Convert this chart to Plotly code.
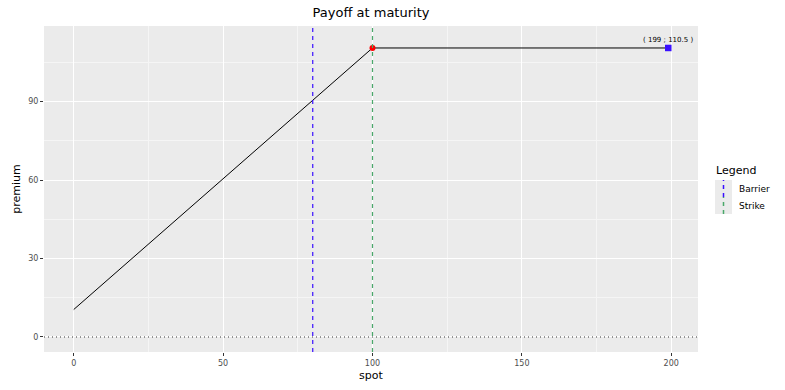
import plotly.graph_objects as go

# data
spot = [0, 100, 199]
premium = [10.5, 110.5, 110.5]
barrier = 80
strike = 100
strike_point = (100, 110.5)
end_point = (199, 110.5)
end_label = "( 199 ; 110.5 )"
legend_items = ["Barrier", "Strike"]
legend_colors = ["#3a10ff", "#4aa86a"]
x_ticks = [0, 50, 100, 150, 200]
y_ticks = [0, 30, 60, 90]

L, R, T, B = 44, 698, 26, 352
W, H = 785, 390
pw, ph = R - L, B - T

def px(x):
    return (x - L) / pw

def py(y):
    return (B - y) / ph

fig = go.Figure()
fig.add_trace(go.Scatter(x=spot, y=premium, mode="lines",
                         line=dict(color="black", width=1), showlegend=False, hoverinfo="skip"))
fig.add_trace(go.Scatter(x=[strike_point[0]], y=[strike_point[1]], mode="markers",
                         marker=dict(color="red", size=6), showlegend=False))
fig.add_trace(go.Scatter(x=[end_point[0]], y=[end_point[1]], mode="markers",
                         marker=dict(color="#3a10ff", size=6.5, symbol="square"), showlegend=False))

# horizontal zero line
fig.add_hline(y=0, line=dict(color="black", width=0.8, dash="1px,3px"))
fig.add_vline(x=barrier, line=dict(color=legend_colors[0], width=1.2, dash="4px,4px"))
fig.add_vline(x=strike, line=dict(color=legend_colors[1], width=1.2, dash="4px,4px"))

fig.add_annotation(x=end_point[0], y=end_point[1], text=end_label, showarrow=False,
                   yshift=8, font=dict(size=7, color="black", family="DejaVu Sans"))

# custom legend
fig.add_annotation(xref="paper", yref="paper", x=px(714), y=py(170), text="Legend",
                   showarrow=False, xanchor="left", yanchor="middle",
                   font=dict(size=11, color="black", family="DejaVu Sans"))
for i, (name, col) in enumerate(zip(legend_items, legend_colors)):
    y0 = 180 + i * 17
    y1 = y0 + 17
    fig.add_shape(type="rect", xref="paper", yref="paper", x0=px(715), x1=px(732),
                  y0=py(y1), y1=py(y0), fillcolor="#ebebeb", line=dict(width=0), layer="below")
    fig.add_shape(type="line", xref="paper", yref="paper", x0=px(723.5), x1=px(723.5),
                  y0=py(y1), y1=py(y0), line=dict(color=col, width=1.5, dash="4px,4px"))
    fig.add_annotation(xref="paper", yref="paper", x=px(737), y=py((y0 + y1) / 2), text=name,
                       showarrow=False, xanchor="left", yanchor="middle",
                       font=dict(size=9, color="black", family="DejaVu Sans"))

axis_common = dict(showgrid=True, gridcolor="white", gridwidth=1.1, zeroline=False,
                   ticks="outside", ticklen=3, tickcolor="#333333", tickwidth=1,
                   tickfont=dict(size=8, color="#4d4d4d", family="DejaVu Sans"),
                   minor=dict(showgrid=True, gridcolor="#f5f5f5", gridwidth=0.5),
                   showline=False, automargin=False)

fig.update_layout(
    width=W, height=H,
    margin=dict(l=L, r=W - R, t=T, b=H - B, autoexpand=False),
    plot_bgcolor="#ebebeb", paper_bgcolor="white",
    title=dict(text="Payoff at maturity", x=(L + R) / 2 / W, xanchor="center",
               y=1 - 12 / H, yanchor="middle",
               font=dict(size=13, color="black", family="DejaVu Sans")),
    xaxis=dict(range=[-9.95, 208.95], tickvals=x_ticks,
               title=dict(text="spot", standoff=4, font=dict(size=11, color="black", family="DejaVu Sans")),
               **axis_common),
    yaxis=dict(range=[-5.74, 118.9], tickvals=y_ticks,
               title=dict(text="premium", standoff=5, font=dict(size=11, color="black", family="DejaVu Sans")),
               **axis_common),
    showlegend=False,
)
fig.update_xaxes(minor_tickvals=[25, 75, 125, 175], minor_ticks="")
fig.update_yaxes(minor_tickvals=[15, 45, 75, 105], minor_ticks="")

fig.write_html("out.html", config={"displayModeBar": False},
               post_script="document.body.style.margin='0';document.body.style.padding='0';")
